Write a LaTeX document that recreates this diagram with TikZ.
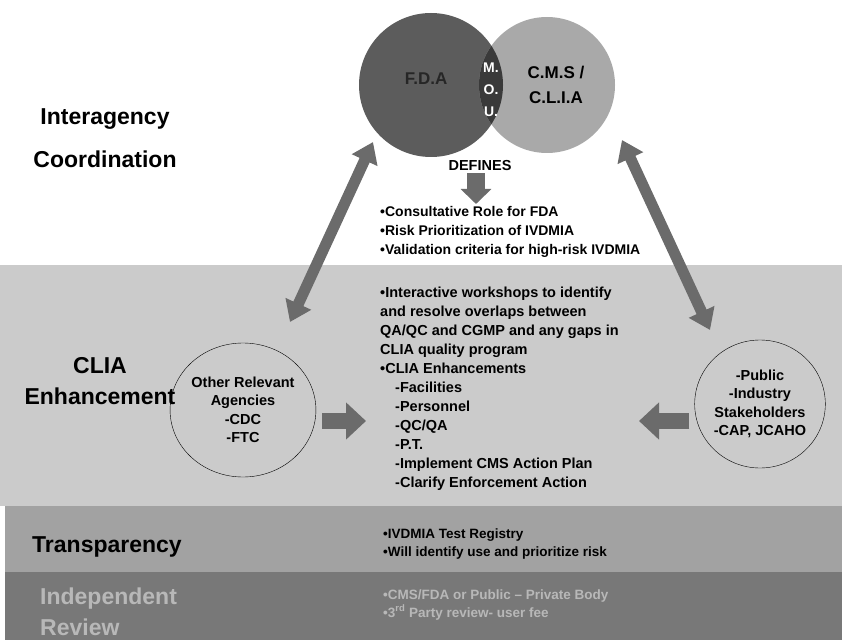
\documentclass[tikz,border=0pt]{standalone}
\usepackage{fontspec}
\setmainfont{Liberation Sans}
\usetikzlibrary{shapes.geometric,arrows.meta,positioning}

\definecolor{fdagray}{HTML}{5C5C5C}
\definecolor{cmsgray}{HTML}{A9A9A9}
\definecolor{mougray}{HTML}{3A3A3A}
\definecolor{arrgray}{HTML}{6B6B6B}
\definecolor{bandA}{HTML}{CBCBCB}
\definecolor{bandB}{HTML}{A2A2A2}
\definecolor{bandC}{HTML}{787878}
\definecolor{indtxt}{HTML}{B8B8B8}

\begin{document}
\begin{tikzpicture}[x=1pt,y=-1pt,
  head/.style={font=\fontsize{23}{31}\selectfont\bfseries, align=center, inner sep=0pt},
  lst/.style={anchor=base west, align=left, inner sep=0pt, font=\fontsize{14.5}{19}\selectfont\bfseries},
  small/.style={anchor=base west, align=left, inner sep=0pt, font=\fontsize{13.5}{18}\selectfont\bfseries},
  oval/.style={ellipse, draw, thin, inner sep=0pt, align=center, font=\fontsize{14.5}{18.5}\selectfont\bfseries},
  dbl/.style={draw=arrgray, line width=11pt, {Triangle[width=27pt,length=20pt]}-{Triangle[width=27pt,length=20pt]}},
  blk/.style={draw=arrgray, line width=16pt, -{Triangle[width=36pt,length=20pt]}}]

\useasboundingbox (0,0) rectangle (842,644);

% bands
\fill[bandA] (0,265) rectangle (842,506);
\fill[bandB] (5,506) rectangle (842,572);
\fill[bandC] (5,572) rectangle (842,640);

% agencies
\node[circle, fill=fdagray, minimum size=144pt, inner sep=0pt] (fda) at (431,85) {};
\node[circle, fill=cmsgray, minimum size=136pt, inner sep=0pt] (cms) at (547,85) {};
\begin{scope}
  \clip (431,85) circle (72);
  \fill[mougray] (547,85) circle (68);
\end{scope}
\node[inner sep=0pt, text=black!85, font=\fontsize{17}{20}\selectfont\bfseries] (fdatxt) at (426,79) {F.D.A};
\node[inner sep=0pt, align=center, font=\fontsize{17}{25}\selectfont\bfseries] (cmstxt) at (556,85) {C.M.S /\\C.L.I.A};
\node[align=center, inner sep=0pt, text=white, font=\fontsize{14}{22}\selectfont\bfseries] (mou) at (491,90) {M.\\O.\\U.};

% left titles
\node[head] (coord) at (105,138) {Interagency\\[12pt]Coordination};
\node[head] (clia) at (100,381) {CLIA\\Enhancement};
\node[head, anchor=west] (transp) at (32,547) {Transparency};
\node[head, align=left, anchor=west, text=indtxt] (indep) at (40,612) {Independent\\Review};

% defines (base anchor = last line)
\node[inner sep=0pt, font=\fontsize{14.5}{18}\selectfont\bfseries] (defines) at (480,166) {DEFINES};
\node[lst, font=\fontsize{14}{18.5}\selectfont\bfseries] (roles) at (380,254)
  {•Consultative Role for FDA\\•Risk Prioritization of IVDMIA\\•Validation criteria for high-risk IVDMIA};
\coordinate (defend) at (476,204);
\draw[draw=arrgray, line width=18pt, -{Triangle[width=30pt,length=15pt]}] (defines.south -| defend) ++(0,2) -- (defend);

\node[lst] (tasks) at (380,487)
  {•Interactive workshops to identify\\and resolve overlaps between\\QA/QC and CGMP and any gaps in\\CLIA quality program\\•CLIA Enhancements\\
   \hspace*{15pt}-Facilities\\\hspace*{15pt}-Personnel\\\hspace*{15pt}-QC/QA\\\hspace*{15pt}-P.T.\\
   \hspace*{15pt}-Implement CMS Action Plan\\\hspace*{15pt}-Clarify Enforcement Action};

% side ovals
\node[oval, minimum width=120pt, minimum height=134pt] (oth) at (243,410)
  {Other Relevant\\Agencies\\-CDC\\-FTC};
\node[oval, minimum width=116pt, minimum height=128pt] (pub) at (760,404)
  {-Public\\-Industry\\Stakeholders\\-CAP, JCAHO};

% arrows
\coordinate (fdaA) at (373,142);
\coordinate (othA) at (290,322);
\coordinate (cmsA) at (622,140);
\coordinate (pubA) at (710,330);
\draw[dbl] (fdaA) -- (othA);
\draw[dbl] (cmsA) -- (pubA);
\coordinate (tasksL) at (366,421);
\coordinate (tasksR) at (639,421);
\draw[blk, shorten <=6pt] (oth.east |- tasksL) -- (tasksL);
\draw[blk, shorten <=5pt] (pub.west |- tasksR) -- (tasksR);

% registry and review
\node[small] (reg) at (383,556) {•IVDMIA Test Registry\\•Will identify use and prioritize risk};
\node[small, text=indtxt] (rev) at (383,617) {•CMS/FDA or Public – Private Body\\•3\textsuperscript{rd} Party review- user fee};
\end{tikzpicture}
\end{document}
